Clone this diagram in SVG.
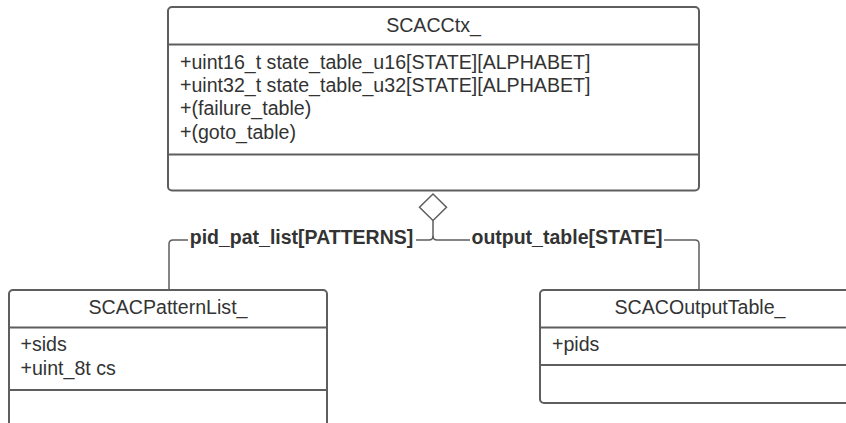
<svg xmlns="http://www.w3.org/2000/svg" width="846" height="423" viewBox="0 0 846 423">
<style>
.box{fill:#ffffff;stroke:#5e5e5e;stroke-width:2}
.div{stroke:#5e5e5e;stroke-width:2}
.t{font-family:"Liberation Sans",Arial,sans-serif;font-size:19.6px;fill:#333333}
.c{text-anchor:middle}
.lbl{font-family:"Liberation Sans",Arial,sans-serif;font-size:19.5px;font-weight:bold;fill:#333333;text-anchor:middle}
.conn{fill:none;stroke:#5e5e5e;stroke-width:1.5}
</style>
<rect width="846" height="423" fill="#ffffff"/>
<g id="connectors">
<path class="conn" d="M433 220.5 L433 236 Q433 240 429 240 L173 240 Q169 240 169 244 L169 290"/>
<path class="conn" d="M433 236 Q433 240 437 240 L695 240 Q699 240 699 244 L699 290"/>
<polygon class="conn" style="fill:#ffffff" points="433,194 446.5,207.2 433,220.5 419.5,207.2"/>
<rect x="188" y="229" width="228" height="22" fill="#ffffff"/>
<text class="lbl" x="301.5" y="243.5">pid_pat_list[PATTERNS]</text>
<rect x="470" y="229" width="194" height="22" fill="#ffffff"/>
<text class="lbl" x="567" y="243.5">output_table[STATE]</text>
</g>
<g id="SCACCtx_">
<rect class="box" x="168" y="7" width="531" height="183.5" rx="4"/>
<line class="div" x1="168" y1="44.5" x2="699" y2="44.5"/>
<line class="div" x1="168" y1="154.5" x2="699" y2="154.5"/>
<text class="t c" x="433.5" y="31.5">SCACCtx_</text>
<text class="t" x="180" y="68.5">+uint16_t state_table_u16[STATE][ALPHABET]</text>
<text class="t" x="180" y="91.9">+uint32_t state_table_u32[STATE][ALPHABET]</text>
<text class="t" x="180" y="115.3">+(failure_table)</text>
<text class="t" x="180" y="138.7">+(goto_table)</text>
</g>
<g id="SCACPatternList_">
<rect class="box" x="9" y="290" width="318" height="160" rx="4"/>
<line class="div" x1="9" y1="327.5" x2="327" y2="327.5"/>
<line class="div" x1="9" y1="390" x2="327" y2="390"/>
<text class="t c" x="168" y="313.5">SCACPatternList_</text>
<text class="t" x="20.5" y="351">+sids</text>
<text class="t" x="20.5" y="375">+uint_8t cs</text>
</g>
<g id="SCACOutputTable_">
<rect class="box" x="540" y="290" width="320" height="113" rx="4"/>
<line class="div" x1="540" y1="327.5" x2="860" y2="327.5"/>
<line class="div" x1="540" y1="365" x2="860" y2="365"/>
<text class="t c" x="700" y="313.5">SCACOutputTable_</text>
<text class="t" x="552" y="351">+pids</text>
</g>
</svg>
